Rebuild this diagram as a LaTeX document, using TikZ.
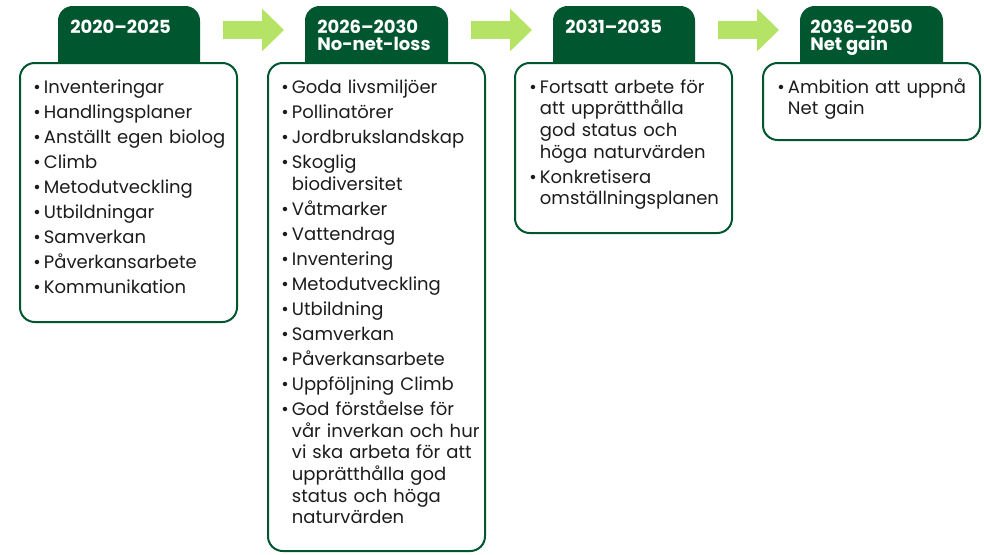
\documentclass[tikz,border=0pt]{standalone}
\usepackage{fontspec}
\setmainfont{Poppins}
\usetikzlibrary{arrows.meta, fit}
\definecolor{pinegreen}{HTML}{00562F}
\definecolor{leafgreen}{HTML}{B5E366}
\definecolor{inkgray}{HTML}{1C1C1C}
\tikzset{
  tab style/.style={
    fill=pinegreen,
    rounded corners=11pt,    % only the top corners stay visible
    inner sep=0pt
  },
  panel style/.style={
    draw=pinegreen, line width=1.5pt,
    fill=white, rounded corners=11pt, inner sep=0pt
  },
  year style/.style={
    anchor=north west, inner sep=0pt, align=left, text=white,
    font=\fontsize{13.5}{12.75}\selectfont\bfseries
  },
  list style/.style={
    anchor=north west, inner sep=0pt, text width=160pt, align=left,
    text=inkgray, font=\fontsize{13.5}{16.2}\selectfont,
    execute at begin node={\setlength\parskip{2.6pt}}
  },
  step arrow/.style={
    -{Triangle[length=16.5pt, width=31pt]}, % wide block head
    line width=13.5pt, draw=leafgreen,
    shorten <=17pt, shorten >=15.5pt
  }
}
% one bullet item, wrapped lines stay under the text;
% the depth of the last line is passed on so the spacing stays even
\newcommand\blt[1]{\par\noindent
  \makebox[8pt][l]{\rule{0pt}{9pt}\textbullet}%
  \parbox[t]{150pt}{\raggedright #1\par\xdef\lastdp{\the\prevdepth}}%
  \par\prevdepth=\lastdp\relax}

\begin{document}
\begin{tikzpicture}[x=0.75pt, y=-0.75pt]
    \useasboundingbox (0,0) rectangle (984,554);

    % Header tabs, their lower part goes under the panels
    \node[tab style, fit={(58,6) (200,90)}] (tabA) {};
    \node[tab style, fit={(305,6) (448,90)}] (tabB) {};
    \node[tab style, fit={(553,6) (695,90)}] (tabC) {};
    \node[tab style, fit={(800,6) (943,90)}] (tabD) {};

    % Panels with the lists
    \node[panel style, fit={(20,63) (237,322)}] (panelA) {};
    \node[panel style, fit={(268,63) (485,551)}] (panelB) {};
    \node[panel style, fit={(515,63) (732,233)}] (panelC) {};
    \node[panel style, fit={(763,63) (980,140)}] (panelD) {};

    % Arrows from one period to the next
    \coordinate (arrowrow) at (0,30);
    \draw[step arrow] (tabA.east |- arrowrow) -- (tabB.west |- arrowrow);
    \draw[step arrow] (tabB.east |- arrowrow) -- (tabC.west |- arrowrow);
    \draw[step arrow] (tabC.east |- arrowrow) -- (tabD.west |- arrowrow);

    % Period labels
    \node[year style] (yearA) at (70,20) {2020--2025};
    \node[year style] (yearB) at (317,20) {2026--2030\\No-net-loss};
    \node[year style] (yearC) at (565,20) {2031--2035};
    \node[year style] (yearD) at (810,20) {2036--2050\\Net gain};

    % Lists
    \node[list style] (listA) at (33,68) {%
      \blt{Inventeringar}\blt{Handlingsplaner}\blt{Anställt egen biolog}%
      \blt{Climb}\blt{Metodutveckling}\blt{Utbildningar}\blt{Samverkan}%
      \blt{Påverkansarbete}\blt{Kommunikation}};
    \node[list style] (listB) at (281,68) {%
      \blt{Goda livsmiljöer}\blt{Pollinatörer}\blt{Jordbrukslandskap}%
      \blt{Skoglig\\biodiversitet}\blt{Våtmarker}\blt{Vattendrag}%
      \blt{Inventering}\blt{Metodutveckling}\blt{Utbildning}\blt{Samverkan}%
      \blt{Påverkansarbete}\blt{Uppföljning Climb}%
      \blt{God förståelse för\\vår inverkan och hur\\vi ska arbeta för att\\
        upprätthålla god\\status och höga\\naturvärden}};
    \node[list style] (listC) at (529,68) {%
      \blt{Fortsatt arbete för\\att upprätthålla\\god status och\\höga naturvärden}%
      \blt{Konkretisera\\omställningsplanen}};
    \node[list style] (listD) at (777,68) {%
      \blt{Ambition att uppnå\\Net gain}};
\end{tikzpicture}
\end{document}
